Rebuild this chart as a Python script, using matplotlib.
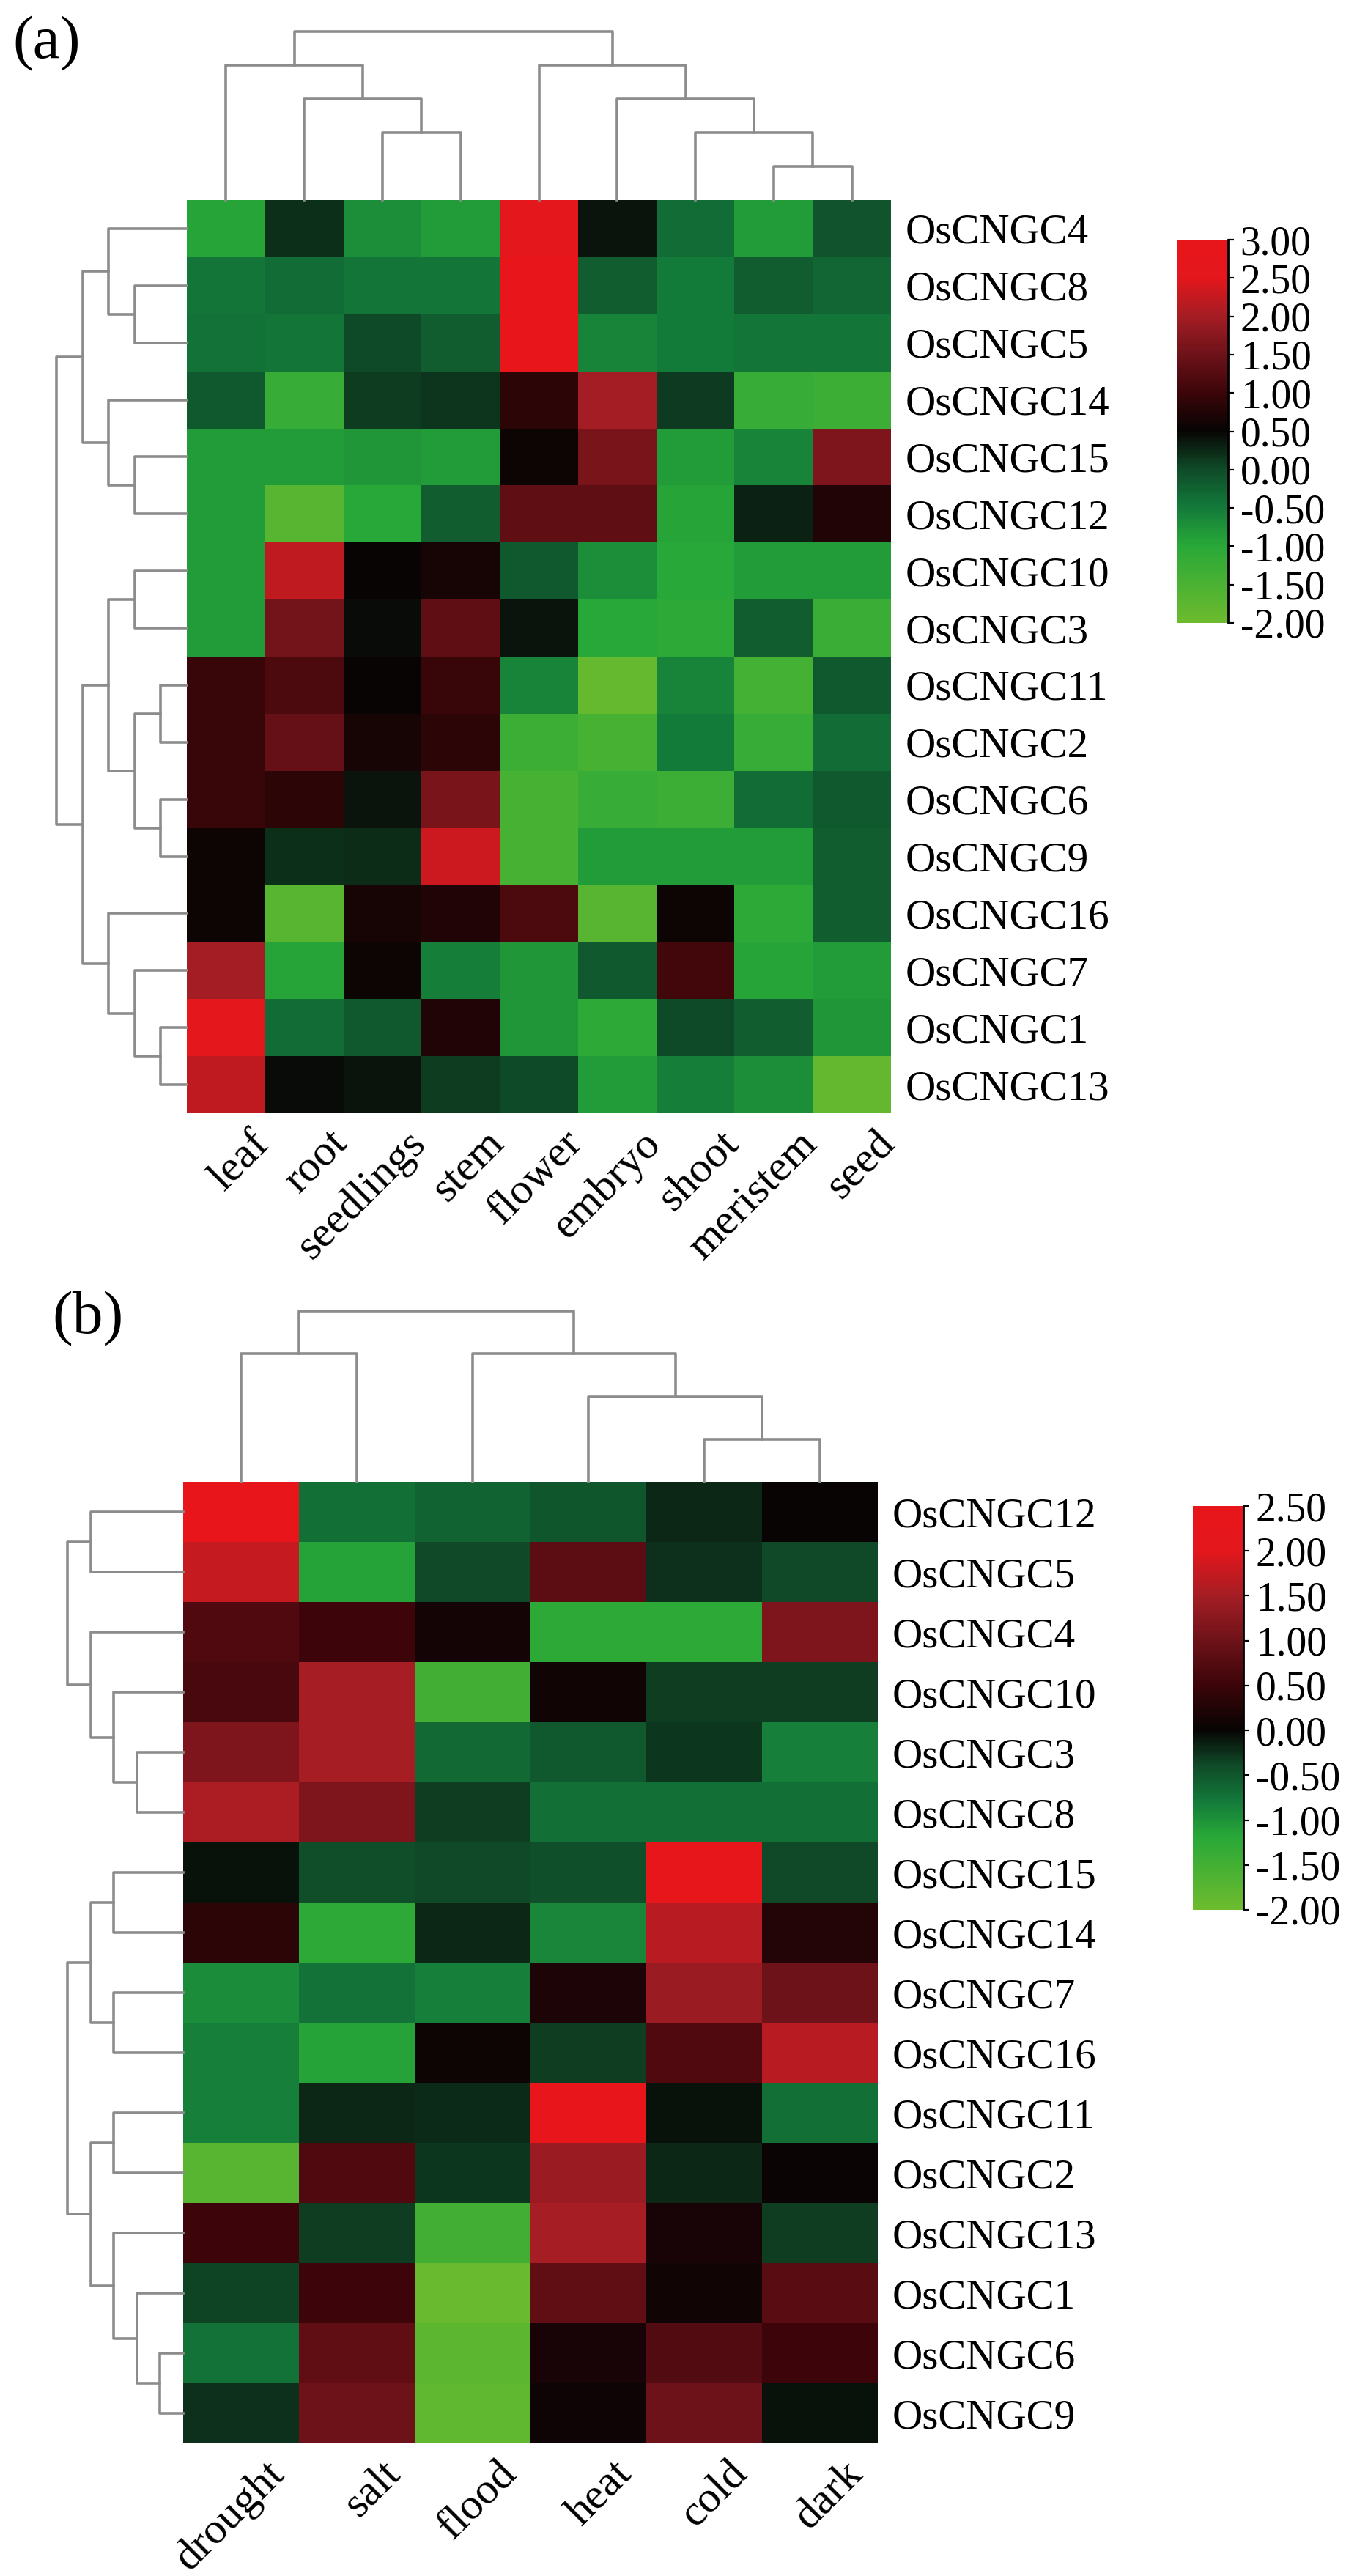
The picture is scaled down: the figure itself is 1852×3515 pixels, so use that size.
import numpy as np
import matplotlib
matplotlib.use("Agg")
import matplotlib.pyplot as plt
from matplotlib.colors import LinearSegmentedColormap, Normalize
from matplotlib.transforms import offset_copy

plt.rcParams['font.family'] = ['Liberation Serif', 'DejaVu Serif']
plt.rcParams['axes.unicode_minus'] = False

# ---- panel (a): tissues ----
tissues = ['leaf', 'root', 'seedlings', 'stem', 'flower', 'embryo', 'shoot', 'meristem', 'seed']
genes_a = ['OsCNGC4', 'OsCNGC8', 'OsCNGC5', 'OsCNGC14', 'OsCNGC15', 'OsCNGC12', 'OsCNGC10', 'OsCNGC3',
           'OsCNGC11', 'OsCNGC2', 'OsCNGC6', 'OsCNGC9', 'OsCNGC16', 'OsCNGC7', 'OsCNGC1', 'OsCNGC13']
values_a = [
    [-0.95, 0.2, -0.7, -0.85, 2.5, 0.4, -0.35, -0.85, -0.1],
    [-0.45, -0.35, -0.45, -0.45, 3.0, -0.2, -0.5, -0.2, -0.3],
    [-0.4, -0.45, 0.0, -0.2, 3.0, -0.6, -0.5, -0.45, -0.45],
    [-0.15, -1.2, 0.1, 0.15, 0.85, 2.0, 0.12, -1.2, -1.3],
    [-0.85, -0.85, -0.8, -0.85, 0.55, 1.6, -0.85, -0.6, 1.65],
    [-0.85, -1.7, -1.0, -0.2, 1.35, 1.35, -0.95, 0.3, 0.75],
    [-0.85, 2.2, 0.5, 0.65, -0.15, -0.7, -1.0, -0.85, -0.85],
    [-0.85, 1.55, 0.45, 1.35, 0.4, -1.0, -1.05, -0.2, -1.25],
    [0.95, 1.15, 0.5, 0.95, -0.6, -1.9, -0.6, -1.4, -0.15],
    [0.95, 1.4, 0.65, 0.85, -1.3, -1.45, -0.5, -1.2, -0.35],
    [0.95, 0.85, 0.4, 1.6, -1.45, -1.2, -1.3, -0.35, -0.15],
    [0.55, 0.2, 0.22, 2.3, -1.45, -0.85, -0.85, -0.85, -0.2],
    [0.55, -1.7, 0.65, 0.75, 1.15, -1.7, 0.55, -1.05, -0.2],
    [2.0, -0.95, 0.55, -0.55, -0.8, -0.15, 1.05, -0.95, -0.85],
    [2.5, -0.35, -0.15, 0.75, -0.8, -1.05, 0.0, -0.2, -0.8],
    [2.2, 0.45, 0.4, 0.1, 0.0, -0.85, -0.55, -0.7, -1.85],
]
# dendrograms: (left, right, merge level); ints are leaf positions
coltree_a = ((0, (1, (2, 3, 2), 3), 4), (4, (5, (6, (7, 8, 1), 2), 3), 4), 5)
rowtree_a = [(((0, (1, 2, 2), 3), (3, (4, 5, 2), 3), 4),
              (((6, 7, 2), ((8, 9, 1), (10, 11, 1), 2), 3), (12, (13, (14, 15, 1), 2), 3), 4), 5)]
nodes_a = [-2, -1, -0.5, 0, 0.5, 1, 1.5, 2, 2.5, 3]

# ---- panel (b): stresses ----
stresses = ['drought', 'salt', 'flood', 'heat', 'cold', 'dark']
genes_b = ['OsCNGC12', 'OsCNGC5', 'OsCNGC4', 'OsCNGC10', 'OsCNGC3', 'OsCNGC8', 'OsCNGC15', 'OsCNGC14',
           'OsCNGC7', 'OsCNGC16', 'OsCNGC11', 'OsCNGC2', 'OsCNGC13', 'OsCNGC1', 'OsCNGC6', 'OsCNGC9']
values_b = [
    [2.45, -0.7, -0.6, -0.5, -0.2, 0.02],
    [1.75, -1.15, -0.4, 0.8, -0.25, -0.4],
    [0.7, 0.5, 0.12, -1.25, -1.25, 1.15],
    [0.62, 1.5, -1.5, 0.08, -0.32, -0.32],
    [1.15, 1.5, -0.65, -0.52, -0.28, -0.85],
    [1.55, 1.15, -0.33, -0.7, -0.7, -0.7],
    [-0.08, -0.42, -0.4, -0.45, 2.4, -0.4],
    [0.35, -1.25, -0.2, -0.9, 1.65, 0.25],
    [-0.95, -0.72, -0.85, 0.2, 1.4, 1.0],
    [-0.85, -1.15, 0.05, -0.32, 0.7, 1.65],
    [-0.85, -0.2, -0.22, 2.45, -0.08, -0.7],
    [-1.75, 0.7, -0.28, 1.4, -0.2, 0.03],
    [0.5, -0.33, -1.5, 1.5, 0.15, -0.33],
    [-0.36, 0.5, -1.95, 0.85, 0.08, 0.78],
    [-0.72, 0.85, -1.8, 0.15, 0.72, 0.5],
    [-0.25, 1.0, -1.85, 0.06, 1.0, -0.08],
]
coltree_b = ((0, 1, 3), (2, (3, (4, 5, 1), 2), 3), 4)
rowtree_b = [((0, 1, 4), (2, (3, (4, 5, 2), 3), 4), 5),
             (((6, 7, 3), (8, 9, 3), 4), ((10, 11, 3), (12, (13, (14, 15, 1), 2), 3), 4), 5)]
nodes_b = [-2, -1.2, -0.8, -0.4, 0, 0.5, 1.0, 1.5, 2.0, 2.5]

colors = ['#6cbb2e', '#28a838', '#137a3a', '#0f4a28', '#080404',
          '#3c0509', '#6e1219', '#a51d24', '#e3171c', '#e8161b']

W, H = 1852, 3515
fig = plt.figure(figsize=(W / 100, H / 100), dpi=100)


def px_axes(l, t, r, b):
    return fig.add_axes([l / W, 1 - b / H, (r - l) / W, (b - t) / H])


def make_cmap(nodes):
    lo, hi = nodes[0], nodes[-1]
    pos = [(v - lo) / (hi - lo) for v in nodes]
    return LinearSegmentedColormap.from_list('rg', list(zip(pos, colors))), Normalize(lo, hi)


def draw_tree(ax, node, vertical):
    if not isinstance(node, tuple):
        return node + 0.5, 0
    left, right, h = node
    p1, h1 = draw_tree(ax, left, vertical)
    p2, h2 = draw_tree(ax, right, vertical)
    ps, hs = [p1, p1, p2, p2], [h1, h, h, h2]
    if vertical:
        ax.plot(ps, hs, color='#8c8c8c', lw=2.6, clip_on=False)
    else:
        ax.plot(hs, ps, color='#8c8c8c', lw=2.6, clip_on=False)
    return (p1 + p2) / 2, h


def panel(values, rows, cols, coltree, rowtrees, nodes, box, cbox, coltop, rowleft, clevels, rlevels):
    l, t, r, b = box
    data = np.array(values)
    nr, nc = data.shape
    cmap, norm = make_cmap(nodes)

    ax = px_axes(l, t, r, b)
    ax.pcolormesh(np.arange(nc + 1), np.arange(nr + 1), data, cmap=cmap, norm=norm)
    ax.set_xlim(0, nc)
    ax.set_ylim(nr, 0)
    for s in ax.spines.values():
        s.set_visible(False)
    ax.set_xticks([])
    ax.yaxis.tick_right()
    ax.set_yticks(np.arange(nr) + 0.5)
    ax.set_yticklabels(rows, fontsize=41)
    ax.tick_params(axis='y', length=0, pad=14)
    trans = offset_copy(ax.transData, fig=fig, x=32, y=-14, units='dots')
    for i, name in enumerate(cols):
        ax.text(i + 0.5, nr, name, transform=trans, rotation=45, ha='right', va='top',
                rotation_mode='anchor', fontsize=43)

    axc = px_axes(l, coltop, r, t)
    draw_tree(axc, coltree, True)
    axc.set_xlim(0, nc)
    axc.set_ylim(0, clevels)
    axc.axis('off')

    axr = px_axes(rowleft, t, l, b)
    for tr in rowtrees:
        draw_tree(axr, tr, False)
    axr.set_xlim(rlevels, 0)
    axr.set_ylim(nr, 0)
    axr.axis('off')

    cl, ct, cr, cb = cbox
    cax = px_axes(cl, ct, cr, cb)
    grad = np.linspace(nodes[0], nodes[-1], 300)
    cax.pcolormesh([0, 1], grad, grad[:-1, None], cmap=cmap, norm=norm)
    cax.set_ylim(nodes[0], nodes[-1])
    cax.set_xlim(0, 1)
    cax.set_xticks([])
    cax.yaxis.tick_right()
    ticks = np.arange(nodes[0], nodes[-1] + 0.01, 0.5)
    cax.set_yticks(ticks)
    cax.set_yticklabels(['%.2f' % v for v in ticks], fontsize=40)
    cax.tick_params(axis='y', length=6, width=1.6, pad=6, direction='out')
    for side in ['top', 'left', 'bottom']:
        cax.spines[side].set_visible(False)
    cax.spines['right'].set_linewidth(2)


panel(values_a, genes_a, tissues, coltree_a, rowtree_a, nodes_a,
      (255, 273, 1216, 1519), (1607, 327, 1676, 850), 43, 77, 5, 5)
panel(values_b, genes_b, stresses, coltree_b, rowtree_b, nodes_b,
      (250, 2022, 1198, 3334), (1628, 2055, 1697, 2606), 1789, 92, 4, 5)

fig.text(17 / W, 1 - 22 / H, '(a)', fontsize=60, ha='left', va='top')
fig.text(71 / W, 1 - 1762 / H, '(b)', fontsize=60, ha='left', va='top')

fig.savefig('out.png', dpi=100, facecolor='white')
